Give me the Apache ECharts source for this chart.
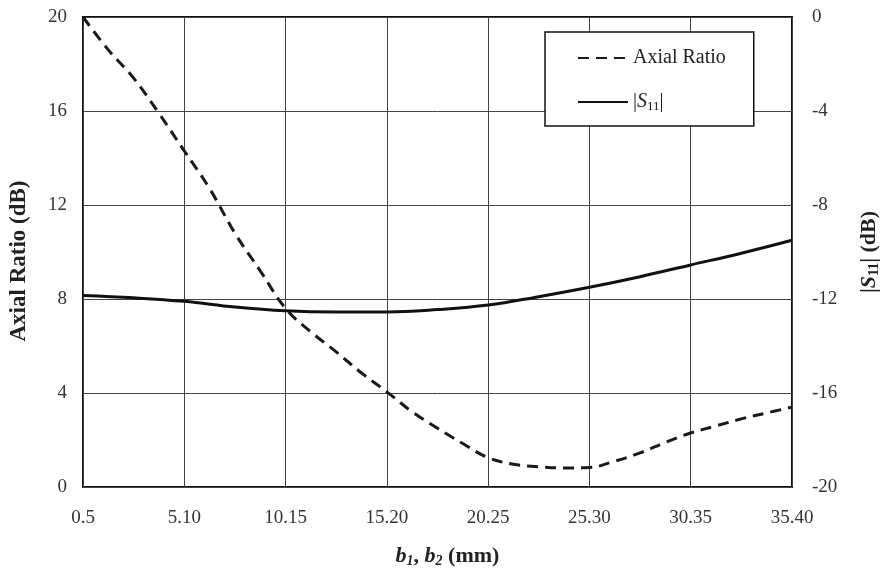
<!DOCTYPE html>
<html>
<head>
<meta charset="utf-8">
<script src="https://cdn.jsdelivr.net/npm/echarts@6/dist/echarts.min.js"></script>
<style>
html,body{margin:0;padding:0;background:#fff;}
#c{width:881px;height:574px;}
</style>
</head>
<body>
<div id="c"></div>
<script>
// x positions expressed as index along the evenly spaced tick labels
var tickLabels = ['0.5', '5.10', '10.15', '15.20', '20.25', '25.30', '30.35', '35.40'];
var xPos = [0, 0.25, 0.5, 0.75, 1, 1.25, 1.5, 1.75, 2, 2.25, 2.5, 2.75, 3, 3.25, 3.5, 3.75, 4, 4.25, 4.5, 4.75, 5, 5.25, 5.5, 5.75, 6, 6.25, 6.5, 6.75, 7];
var axialRatio = [20, 18.6, 17.4, 15.9, 14.3, 12.7, 10.8, 9.2, 7.6, 6.6, 5.75, 4.85, 4.05, 3.2, 2.5, 1.85, 1.25, 0.97, 0.86, 0.81, 0.83, 1.1, 1.45, 1.9, 2.3, 2.6, 2.9, 3.15, 3.4];
var s11Pos = [0, 0.5, 1, 1.5, 2, 2.5, 3, 3.5, 4, 4.5, 5, 5.5, 6, 6.5, 7];
var s11 = [-11.85, -11.95, -12.1, -12.34, -12.5, -12.55, -12.55, -12.45, -12.26, -11.9, -11.5, -11.05, -10.55, -10.05, -9.5];

var arData = xPos.map(function (x, i) { return [x, axialRatio[i]]; });
var sData = s11Pos.map(function (x, i) { return [x, s11[i]]; });

var font = '"Liberation Serif", "Times New Roman", serif';
var chart = echarts.init(document.getElementById('c'), null, {renderer: 'canvas'});
chart.setOption({
  backgroundColor: '#ffffff',
  animation: false,
  textStyle: {fontFamily: font},
  grid: {left: 83, right: 89, top: 17, bottom: 87, show: true, borderColor: '#111', borderWidth: 2,
         outerBoundsMode: 'none', containLabel: false},
  legend: {
    left: 545, top: 32, orient: 'vertical',
    backgroundColor: '#fff', borderColor: '#111', borderWidth: 1.5,
    padding: [16, 28, 13, 32], itemGap: 24, itemWidth: 50, itemHeight: 14,
    itemStyle: {opacity: 0},
    textStyle: {fontFamily: font, fontSize: 20, color: '#222',
      rich: {i: {fontFamily: font, fontSize: 20, fontStyle: 'italic', color: '#222'},
             sub: {fontFamily: font, fontSize: 13, color: '#222', verticalAlign: 'bottom', padding: [9, 0, 0, 0]},
             n: {fontFamily: font, fontSize: 20, color: '#222'}}},
    formatter: function (name) {
      if (name === 'S11') return '{n||}{i|S}{sub|11}{n||}';
      return name;
    },
    data: ['Axial Ratio', 'S11']
  },
  xAxis: {
    type: 'value', min: 0, max: 7, interval: 1,
    name: '{i|b}{sub|1}{b|, }{i|b}{sub|2}{b| (mm)}', nameLocation: 'middle', nameGap: 58,
    nameTextStyle: {padding: [0, 0, 0, 20], rich: {
      i: {fontFamily: font, fontSize: 22, fontWeight: 'bold', fontStyle: 'italic', color: '#222'},
      sub: {fontFamily: font, fontSize: 14, fontWeight: 'bold', fontStyle: 'italic', color: '#222', verticalAlign: 'bottom', padding: [9, 0, 0, 0]},
      b: {fontFamily: font, fontSize: 22, fontWeight: 'bold', color: '#222'}}},
    axisLine: {show: false}, axisTick: {show: false},
    axisLabel: {fontFamily: font, fontSize: 19, color: '#333', margin: 22,
      formatter: function (v) { return tickLabels[Math.round(v)]; }},
    splitLine: {show: true, lineStyle: {color: '#444', width: 1}}
  },
  yAxis: [{
    type: 'value', min: 0, max: 20, interval: 4,
    name: 'Axial Ratio (dB)', nameLocation: 'middle', nameGap: 52,
    nameTextStyle: {fontFamily: font, fontSize: 23, fontWeight: 'bold', color: '#222', padding: [0, 18, 0, 0]},
    axisLine: {show: false}, axisTick: {show: false},
    axisLabel: {fontFamily: font, fontSize: 19, color: '#333', margin: 16},
    splitLine: {show: true, lineStyle: {color: '#444', width: 1}}
  }, {
    type: 'value', min: -20, max: 0, interval: 4, position: 'right',
    name: '{n||}{i|S}{sub|11}{n|| (dB)}', nameLocation: 'middle', nameGap: 66, nameRotate: 90,
    nameTextStyle: {rich: {
      i: {fontFamily: font, fontSize: 22, fontWeight: 'bold', fontStyle: 'italic', color: '#222'},
      sub: {fontFamily: font, fontSize: 14, fontWeight: 'bold', color: '#222', verticalAlign: 'bottom', padding: [9, 0, 0, 0]},
      n: {fontFamily: font, fontSize: 22, fontWeight: 'bold', color: '#222'}}},
    axisLine: {show: false}, axisTick: {show: false},
    axisLabel: {fontFamily: font, fontSize: 19, color: '#333', margin: 20},
    splitLine: {show: false}
  }],
  series: [{
    name: 'Axial Ratio', type: 'line', yAxisIndex: 0, data: arData,
    smooth: 0.4, symbol: 'none',
    lineStyle: {color: '#1a1a1a', width: 3, type: [11, 7]},
    itemStyle: {color: '#1a1a1a'}
  }, {
    name: 'S11', type: 'line', yAxisIndex: 1, data: sData,
    smooth: 0.4, symbol: 'none',
    lineStyle: {color: '#111', width: 3},
    itemStyle: {color: '#111'}
  }]
});
</script>
</body>
</html>
